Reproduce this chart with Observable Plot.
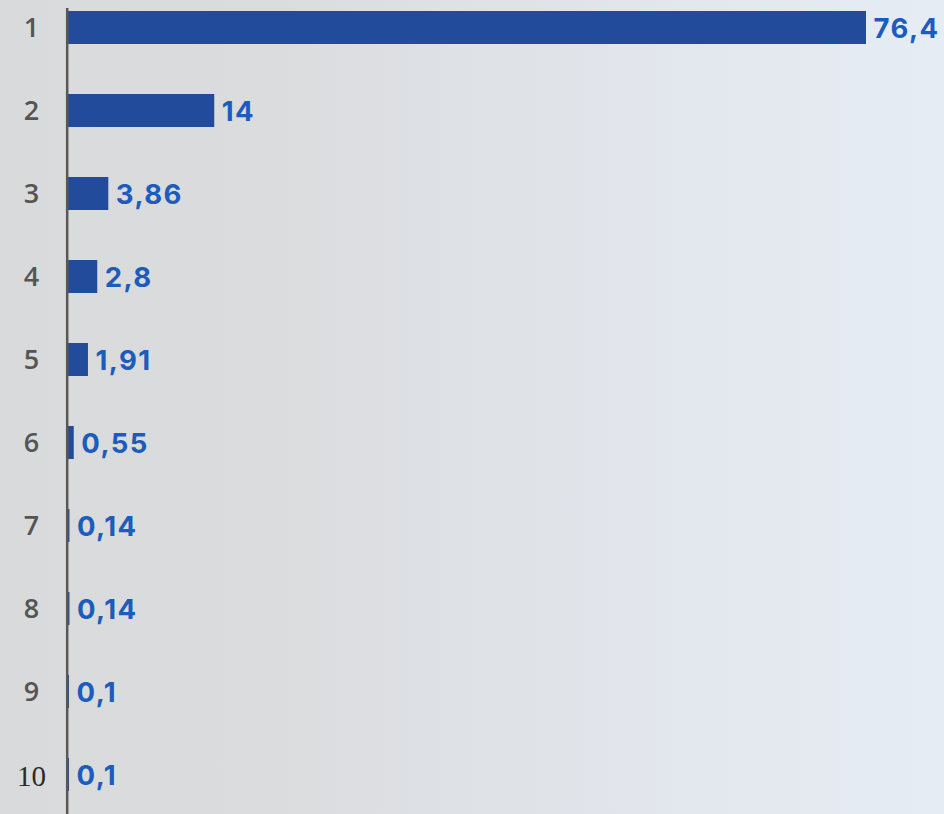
<!DOCTYPE html>
<html>
<head>
<meta charset="utf-8">
<script src="https://cdn.jsdelivr.net/npm/d3@7"></script>
<script src="https://cdn.jsdelivr.net/npm/@observablehq/plot@0.6"></script>
<style>
  html, body { margin: 0; padding: 0; }
  body {
    width: 944px; height: 814px; overflow: hidden;
    background: linear-gradient(to right, #d9dadb 0%, #dbdcde 30%, #dfe3e8 55%, #e4e9f0 80%, #e6ecf4 100%);
  }
  #chart svg { display: block; background: transparent; }
  #chart .vlabels text { letter-spacing: 1.4px; }
  #chart .ylabels text { font-family: "Open Sans", sans-serif; }
  #chart .ylabel10 text { font-family: "Liberation Serif", serif; }
</style>
</head>
<body>
<div id="chart"></div>
<script>
const categories = ["1", "2", "3", "4", "5", "6", "7", "8", "9", "10"];
const values = [76.4, 14, 3.86, 2.8, 1.91, 0.55, 0.14, 0.14, 0.1, 0.1];
const valueLabels = ["76,4", "14", "3,86", "2,8", "1,91", "0,55", "0,14", "0,14", "0,1", "0,1"];

const data = categories.map((c, i) => ({cat: c, value: values[i], label: valueLabels[i]}));

const chart = Plot.plot({
  width: 944,
  height: 814,
  marginLeft: 68,
  marginRight: 78,
  marginTop: 8,
  marginBottom: 0,
  style: {background: "transparent", overflow: "visible", fontFamily: "'Open Sans', sans-serif"},
  x: {domain: [0, 76.4], axis: null},
  y: {domain: categories, range: [-40, 843], padding: 0.6, axis: null},
  marks: [
    Plot.barX(data, {x: "value", y: "cat", fill: "#234b9b"}),
    Plot.ruleX([0], {stroke: "#5b5752", strokeWidth: 2.5, dx: -1.3}),
    Plot.text(data, {
      x: "value", y: "cat", text: "label",
      textAnchor: "start", dx: 7, dy: 1,
      fill: "#1c5cbc", fontSize: 27.5, fontWeight: 700,
      fontFamily: "Inter", className: "vlabels"
    }),
    Plot.text(data.filter(d => d.cat !== "10"), {
      y: "cat", text: "cat", frameAnchor: "left",
      textAnchor: "middle", dx: -37, dy: 0,
      fill: "#555555", fontSize: 27, fontWeight: 600,
      fontFamily: "Open Sans", className: "ylabels"
    }),
    Plot.text(data.filter(d => d.cat === "10"), {
      y: "cat", text: "cat", frameAnchor: "left",
      textAnchor: "middle", dx: -37, dy: 2,
      fill: "#2a2a2a", fontSize: 29,
      fontFamily: "Liberation Serif", className: "ylabel10"
    })
  ]
});
document.getElementById("chart").appendChild(chart);
</script>
</body>
</html>
